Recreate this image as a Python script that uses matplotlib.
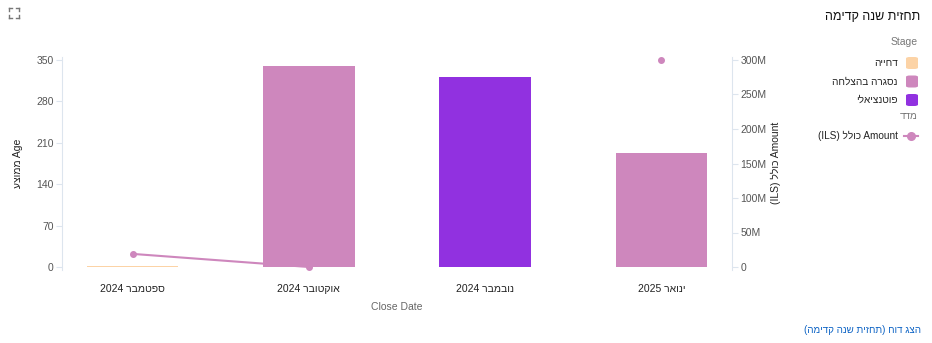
import matplotlib
matplotlib.use("Agg")
import matplotlib.pyplot as plt
from matplotlib.patches import FancyBboxPatch
from matplotlib.lines import Line2D
import numpy as np

plt.rcParams['font.family'] = ['Liberation Sans', 'DejaVu Sans']

def heb(s):
    return s[::-1]

# ---- data ----
months = ["ספטמבר", "אוקטובר", "נובמבר", "ינואר"]
years = ["2024", "2024", "2024", "2025"]
stages = ["דחייה", "נסגרה בהצלחה", "פוטנציאלי", "נסגרה בהצלחה"]
avg_age = [2, 340, 321, 193]
amount_m = [19, 0, np.nan, 300]
left_ticks = [0, 70, 140, 210, 280, 350]
right_ticks = [0, 50, 100, 150, 200, 250, 300]

stage_names = ["דחייה", "נסגרה בהצלחה", "פוטנציאלי"]
stage_colors = {"דחייה": "#fcd3a6", "נסגרה בהצלחה": "#ce87bd", "פוטנציאלי": "#9131e0"}
line_color = "#ce87bd"

W, H = 932, 343
fig = plt.figure(figsize=(W / 100, H / 100), dpi=100)

def fx(px):
    return px / W

def fy(py):
    return 1 - py / H

ax_l, ax_r = 62, 732
ax_t, ax_b = 57, 270
ax = fig.add_axes([fx(ax_l), fy(ax_b), fx(ax_r - ax_l), (ax_b - ax_t) / H])
ax2 = ax.twinx()

x = np.arange(len(months))
colors = [stage_colors[s] for s in stages]
ax.bar(x, avg_age, width=0.52, color=colors, zorder=2)
ax2.plot(x, amount_m, color=line_color, lw=1.5, marker='o', ms=4, zorder=3)

pad_l = 3 * 350 / 207
pad_r = 3 * 300 / 207
ax.set_ylim(-pad_l, 350 + pad_l)
ax2.set_ylim(-pad_r, 300 + pad_r)
ax.set_xlim(-0.4, 3.4)

ax2.set_zorder(3)
ax.patch.set_visible(False)

axis_col = "#dde5ee"
for a in (ax, ax2):
    for s in a.spines.values():
        s.set_visible(False)
ax.spines['left'].set_visible(True)
ax.spines['left'].set_color(axis_col)
ax2.spines['right'].set_visible(True)
ax2.spines['right'].set_color(axis_col)

ax.set_yticks(left_ticks)
ax.set_yticklabels([str(t) for t in left_ticks])
ax2.set_yticks(right_ticks)
ax2.set_yticklabels([("0" if t == 0 else f"{t}M") for t in right_ticks])
for a in (ax, ax2):
    a.tick_params(axis='y', colors=axis_col, labelcolor="#555555", labelsize=7.5, length=4, width=0.8, pad=2)

ax.set_xticks(x)
ax.set_xticklabels([f"{y} {heb(m)}" for m, y in zip(months, years)], fontsize=7.5, color="#222222")
ax.tick_params(axis='x', length=0, pad=10)

# axis titles
fig.text(fx(18), fy(163), "עצוממ Age", rotation=90, ha='center', va='center', fontsize=7.5, color="#222222")
fig.text(fx(776), fy(163), "(ILS) " + heb("כולל") + " Amount", rotation=90, ha='center', va='center', fontsize=7.5, color="#222222")
fig.text(fx(397), fy(307), "Close Date", ha='center', va='center', fontsize=7.5, color="#666666")

# title & legend
fig.text(fx(920), fy(17), heb("תחזית שנה קדימה"), ha='right', va='center', fontsize=9, color="#111111")
fig.text(fx(918), fy(42), "Stage", ha='right', va='center', fontsize=7.5, color="#777777")
for i, name in enumerate(stage_names):
    cy = 63 + i * 18.5
    box = FancyBboxPatch((fx(906), fy(cy + 6)), fx(12), 12 / H,
                         boxstyle="round,pad=0,rounding_size=0.004",
                         transform=fig.transFigure, facecolor=stage_colors[name],
                         edgecolor='none')
    fig.patches.append(box)
    fig.text(fx(898), fy(cy), heb(name), ha='right', va='center', fontsize=7.2, color="#222222")
fig.text(fx(918), fy(116), heb("מדד"), ha='right', va='center', fontsize=7.2, color="#777777")
fig.lines.append(Line2D([fx(904), fx(918)], [fy(136), fy(136)], transform=fig.transFigure,
                        color=line_color, lw=1.5))
fig.lines.append(Line2D([fx(911)], [fy(136)], transform=fig.transFigure,
                        color=line_color, marker='o', ms=5.5, lw=0))
fig.text(fx(898), fy(136), "(ILS) " + heb("כולל") + " Amount", ha='right', va='center', fontsize=7.2, color="#222222")

# link
fig.text(fx(921), fy(330), "(" + heb("תחזית שנה קדימה") + ") " + heb("הצג דוח"),
         ha='right', va='center', fontsize=7, color="#0b62c4")

# expand icon
ic = "#777777"
cx, cy, d, s = 14, 13, 2, 3
for sx in (-1, 1):
    for sy in (-1, 1):
        x0, y0 = cx + sx * (d + s), cy + sy * (d + s)
        fig.lines.append(Line2D([fx(x0), fx(x0 - sx * s)], [fy(y0), fy(y0)], transform=fig.transFigure, color=ic, lw=1))
        fig.lines.append(Line2D([fx(x0), fx(x0)], [fy(y0), fy(y0 - sy * s)], transform=fig.transFigure, color=ic, lw=1))

fig.savefig("out.png", dpi=100)
